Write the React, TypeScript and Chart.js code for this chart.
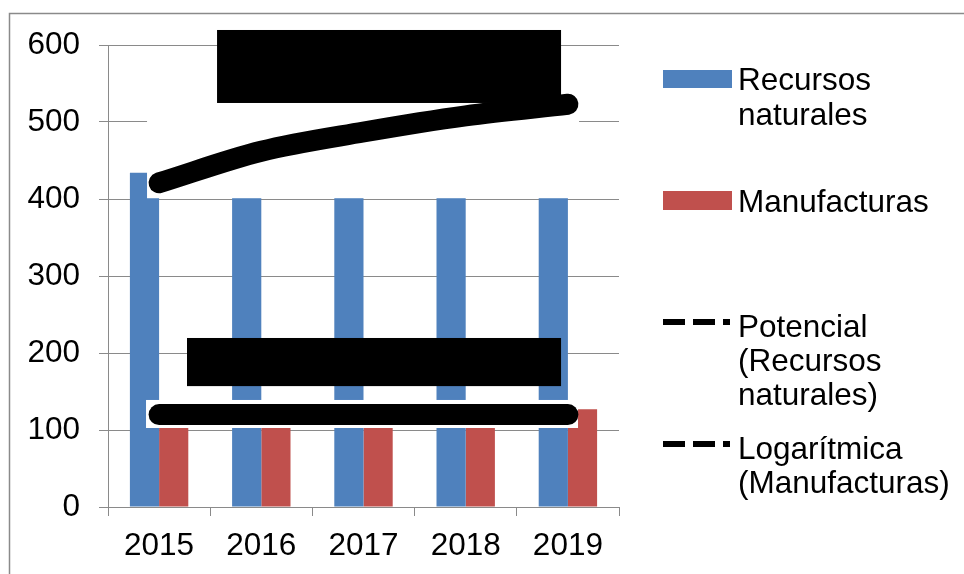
import React, { useEffect, useRef } from "react";
import { Chart, registerables } from "chart.js";

Chart.register(...registerables);

// ---- data ----
const years = ["2015", "2016", "2017", "2018", "2019"];
const recursosNaturales = [434, 460, 490, 505, 520];
const manufacturas = [115, 118, 120, 122, 127];
const potencialRecursos = [421, 462, 487, 508, 523];
const logaritmicaManufacturas = [120, 120, 120, 120, 120];
const yMin = 0;
const yMax = 600;
const yStep = 100;

// legend texts (lines)
const legendRecursos = ["Recursos", "naturales"];
const legendManufacturas = ["Manufacturas"];
const legendPotencial = ["Potencial", "(Recursos", "naturales)"];
const legendLogaritmica = ["Logarítmica", "(Manufacturas)"];

// label-box annotations in data units (category index, value)
const whiteBoxes = [
  { x0: -0.118, x1: 4.109, y0: 401, y1: 525 },
  { x0: -0.128, x1: 4.099, y0: 102.6, y1: 139 },
];
const blackBoxes = [
  { x0: 0.567, x1: 3.933, y0: 524.7, y1: 619.5 },
  { x0: 0.273, x1: 3.933, y0: 157, y1: 219.5 },
];

const BLUE = "#4F81BD";
const RED = "#C0504D";
const GRID = "#8a8a8a";
const FONT_FAMILY = '"Liberation Sans", Arial, sans-serif';
const FONT_SIZE = 31.5;

function rectPx(chart: any, b: any) {
  const xs = chart.scales.x;
  const ys = chart.scales.y;
  const l = xs.getPixelForValue(b.x0);
  const r = xs.getPixelForValue(b.x1);
  const t = ys.getPixelForValue(b.y1);
  const btm = ys.getPixelForValue(b.y0);
  return { l, t, w: r - l, h: btm - t };
}

const decorPlugin = {
  id: "decor",
  beforeDraw(chart: any) {
    chart.$whiteDone = false;
    const ctx = chart.ctx;
    ctx.save();
    ctx.strokeStyle = GRID;
    ctx.lineWidth = 1.5;
    ctx.strokeRect(9.5, 13.5, 980, 600);
    ctx.restore();
  },
  beforeDatasetDraw(chart: any, args: any) {
    if (args.meta.type === "line" && !chart.$whiteDone) {
      chart.$whiteDone = true;
      const ctx = chart.ctx;
      ctx.save();
      ctx.fillStyle = "#ffffff";
      whiteBoxes.forEach((b) => {
        const r = rectPx(chart, b);
        ctx.fillRect(r.l, r.t, r.w, r.h);
      });
      ctx.restore();
    }
  },
  afterDatasetsDraw(chart: any) {
    const ctx = chart.ctx;
    ctx.save();
    ctx.fillStyle = "#000000";
    blackBoxes.forEach((b) => {
      const r = rectPx(chart, b);
      ctx.fillRect(r.l, r.t, r.w, r.h);
    });
    ctx.restore();
  },
  afterDraw(chart: any) {
    const ctx = chart.ctx;
    ctx.save();
    const mx = 663;
    const tx = 738;
    // boxes
    ctx.fillStyle = BLUE;
    ctx.fillRect(mx, 70, 69, 18);
    ctx.fillStyle = RED;
    ctx.fillRect(mx, 191, 69, 19);
    // dashed markers
    ctx.fillStyle = "#000000";
    [322, 444].forEach((cy) => {
      ctx.fillRect(mx, cy - 3, 22, 6);
      ctx.fillRect(mx + 30, cy - 3, 22, 6);
      ctx.fillRect(mx + 60, cy - 3, 7, 6);
    });
    // texts
    ctx.font = `${FONT_SIZE}px ${FONT_FAMILY}`;
    ctx.textBaseline = "alphabetic";
    ctx.textAlign = "left";
    ctx.fillStyle = "#000000";
    const drawLines = (lines: string[], baseline: number, step: number) => {
      lines.forEach((s, i) => ctx.fillText(s, tx, baseline + i * step));
    };
    drawLines(legendRecursos, 90, 35);
    drawLines(legendManufacturas, 212, 35);
    drawLines(legendPotencial, 337, 34);
    drawLines(legendLogaritmica, 459, 34);
    ctx.restore();
  },
};

export default function App() {
  const ref = useRef<HTMLCanvasElement | null>(null);

  useEffect(() => {
    if (!ref.current) return;
    const chart = new Chart(ref.current, {
      type: "bar",
      data: {
        labels: years,
        datasets: [
          {
            type: "bar",
            label: "Recursos naturales",
            data: recursosNaturales,
            backgroundColor: BLUE,
            borderWidth: 0,
            order: 2,
            categoryPercentage: 2 / 3.5,
            barPercentage: 1,
          },
          {
            type: "bar",
            label: "Manufacturas",
            data: manufacturas,
            backgroundColor: RED,
            borderWidth: 0,
            order: 2,
            categoryPercentage: 2 / 3.5,
            barPercentage: 1,
          },
          {
            type: "line",
            label: "Potencial (Recursos naturales)",
            data: potencialRecursos,
            borderColor: "#000000",
            borderWidth: 21,
            borderCapStyle: "round",
            borderJoinStyle: "round",
            cubicInterpolationMode: "monotone",
            pointRadius: 0,
            fill: false,
            order: 1,
          },
          {
            type: "line",
            label: "Logarítmica (Manufacturas)",
            data: logaritmicaManufacturas,
            borderColor: "#000000",
            borderWidth: 21,
            borderCapStyle: "round",
            borderJoinStyle: "round",
            pointRadius: 0,
            fill: false,
            order: 1,
          },
        ],
      } as any,
      options: {
        animation: false,
        responsive: false,
        devicePixelRatio: 1,
        layout: { padding: { left: 0, top: 45, right: 345, bottom: 0 } },
        plugins: {
          legend: { display: false },
          tooltip: { enabled: false },
          title: { display: false },
        },
        scales: {
          x: {
            type: "category",
            offset: true,
            afterFit: (s: any) => {
              s.height = 67;
            },
            grid: {
              display: true,
              drawOnChartArea: false,
              drawTicks: true,
              tickLength: 9,
              offset: true,
              color: GRID,
              lineWidth: 1,
            },
            border: { display: true, color: GRID, width: 1 },
            ticks: {
              color: "#000000",
              padding: 11,
              maxRotation: 0,
              autoSkip: false,
              font: { family: FONT_FAMILY, size: FONT_SIZE },
            },
          },
          y: {
            type: "linear",
            min: yMin,
            max: yMax,
            afterFit: (s: any) => {
              s.width = 108;
            },
            grid: {
              display: true,
              drawOnChartArea: true,
              drawTicks: true,
              tickLength: 9,
              color: GRID,
              lineWidth: 1,
            },
            border: { display: true, color: GRID, width: 1 },
            ticks: {
              stepSize: yStep,
              color: "#000000",
              padding: 19,
              font: { family: FONT_FAMILY, size: FONT_SIZE },
            },
          },
        },
      } as any,
      plugins: [decorPlugin],
    });
    return () => chart.destroy();
  }, []);

  return (
    <div style={{ position: "absolute", left: 0, top: 0, width: 964, height: 574, background: "#fff" }}>
      <canvas ref={ref} width={964} height={574} style={{ display: "block" }} />
    </div>
  );
}
